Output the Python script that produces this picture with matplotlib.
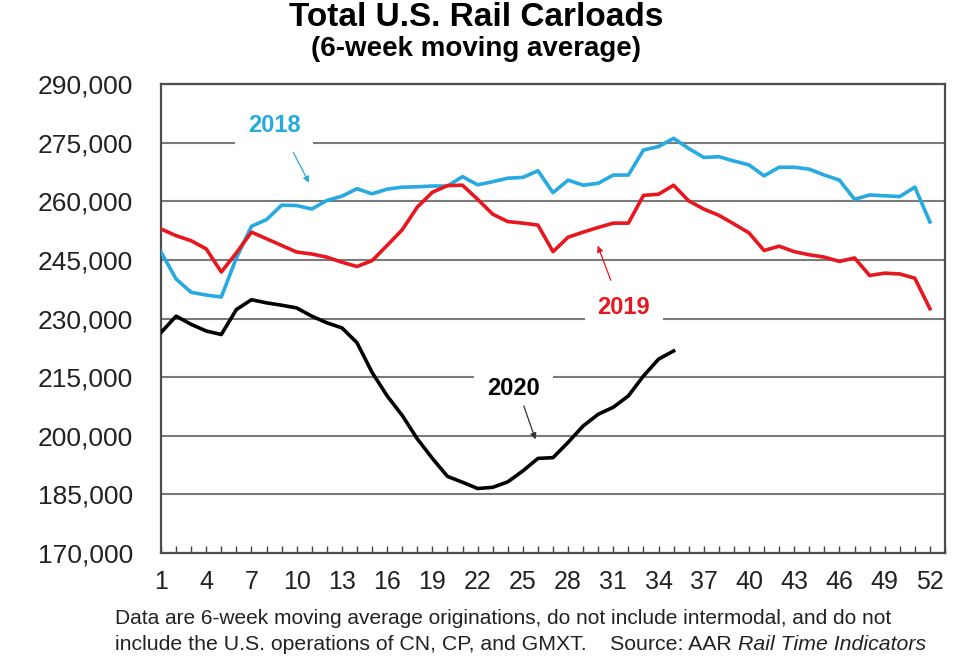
import numpy as np
import matplotlib
matplotlib.use("Agg")
import matplotlib.pyplot as plt
from matplotlib.ticker import FuncFormatter, MultipleLocator

plt.rcParams['font.family'] = ['Liberation Sans', 'DejaVu Sans']

# 6-week moving average carloads, in thousands, by week
weeks = np.arange(1, 53)
carloads_2018 = [247.0, 240.1, 236.7, 236.0, 235.5, 245.5, 253.6, 255.3, 259.0, 258.9,
                 258.0, 260.2, 261.3, 263.2, 261.9, 263.1, 263.6, 263.7, 263.9, 263.9,
                 266.3, 264.2, 265.0, 265.9, 266.1, 267.8, 262.2, 265.4, 264.1, 264.6,
                 266.7, 266.7, 273.1, 274.0, 276.1, 273.5, 271.2, 271.4, 270.3, 269.3,
                 266.5, 268.7, 268.7, 268.2, 266.7, 265.4, 260.5, 261.6, 261.4, 261.2,
                 263.6, 254.7]
carloads_2019 = [252.9, 251.2, 249.9, 247.8, 241.9, 246.8, 252.1, 250.4, 248.7, 247.0,
                 246.5, 245.7, 244.4, 243.3, 244.8, 248.7, 252.7, 258.5, 262.3, 264.0,
                 264.1, 260.5, 256.7, 254.8, 254.4, 253.9, 247.1, 250.8, 252.1, 253.3,
                 254.4, 254.4, 261.5, 261.8, 264.1, 260.1, 258.0, 256.4, 254.2, 251.9,
                 247.4, 248.5, 247.1, 246.3, 245.7, 244.6, 245.5, 241.0, 241.6, 241.4,
                 240.3, 232.5]
carloads_2020 = [226.4, 230.6, 228.5, 226.8, 225.9, 232.3, 234.8, 234.0, 233.4, 232.7,
                 230.6, 228.9, 227.6, 223.8, 216.2, 210.2, 205.2, 199.2, 194.2, 189.6,
                 188.1, 186.5, 186.8, 188.2, 191.0, 194.2, 194.4, 198.3, 202.5, 205.5,
                 207.3, 210.2, 215.3, 219.6, 221.7]
xtick_weeks = np.arange(1, 53, 3)
ytick_values = np.arange(170000, 290001, 15000)

BLUE = '#27a9e1'
RED = '#e8161e'
GRID = '#7a7a7a'

fig = plt.figure(figsize=(9.58, 6.67), dpi=100)
ax = fig.add_axes([161 / 958, 1 - 553 / 667, 784 / 958, 469 / 667])

ax.plot(weeks, np.array(carloads_2018) * 1000, color=BLUE, lw=2.6, zorder=3)
ax.plot(weeks, np.array(carloads_2019) * 1000, color=RED, lw=2.6, zorder=3)
ax.plot(weeks[:len(carloads_2020)], np.array(carloads_2020) * 1000, color='black', lw=2.6, zorder=3)

ax.set_xlim(1, 53)
ax.set_ylim(170000, 290000)
ax.set_yticks(ytick_values)
ax.yaxis.set_major_formatter(FuncFormatter(lambda v, p: f'{int(v):,}'))
ax.set_xticks(xtick_weeks)
ax.xaxis.set_minor_locator(MultipleLocator(1))
ax.tick_params(axis='y', length=0, pad=20, labelsize=19, colors='#222222')
ax.tick_params(axis='x', which='both', direction='in', length=5, width=1, color='#444444',
               pad=12, labelsize=18, labelcolor='#222222')
ax.grid(axis='y', color=GRID, lw=1.5)
ax.set_axisbelow(True)
for s in ax.spines.values():
    s.set_color('#4d4d4d')
    s.set_linewidth(1.6)

# series labels with white boxes hiding the gridlines, plus thin arrows
box = dict(boxstyle='square,pad=0.55', facecolor='white', edgecolor='none')
ax.text(8.5, 279500, '2018', color=BLUE, fontsize=17, fontweight='bold',
        ha='center', va='center', bbox=box, zorder=4)
ax.annotate('', xy=(10.9, 264100), xytext=(9.7, 273100),
            arrowprops=dict(arrowstyle='-|>', color=BLUE, lw=0.9, mutation_scale=9), zorder=4)
ax.text(31.7, 232700, '2019', color=RED, fontsize=17, fontweight='bold',
        ha='center', va='center', bbox=box, zorder=4)
ax.annotate('', xy=(29.9, 249300), xytext=(30.9, 239100),
            arrowprops=dict(arrowstyle='-|>', color=RED, lw=0.9, mutation_scale=9), zorder=4)
ax.text(24.4, 212200, '2020', color='black', fontsize=17, fontweight='bold',
        ha='center', va='center', bbox=box, zorder=4)
ax.annotate('', xy=(25.9, 198400), xytext=(25.0, 208300),
            arrowprops=dict(arrowstyle='-|>', color='#333333', lw=0.9, mutation_scale=9), zorder=4)

fig.text(0.497, 1 - 17 / 667, 'Total U.S. Rail Carloads', ha='center', va='center',
         fontsize=24, fontweight='bold')
fig.text(0.497, 1 - 49 / 667, '(6-week moving average)', ha='center', va='center',
         fontsize=20, fontweight='bold')

fig.text(115 / 958, 1 - 619 / 667,
         'Data are 6-week moving average originations, do not include intermodal, and do not',
         ha='left', va='center', fontsize=15, color='#222222')
t2 = fig.text(115 / 958, 1 - 645 / 667,
              'include the U.S. operations of CN, CP, and GMXT.    Source: AAR ',
              ha='left', va='center', fontsize=15.3, color='#222222')
ax.annotate('Rail Time Indicators', xy=(1, 0.5), xycoords=t2, ha='left', va='center',
            fontsize=15.3, fontstyle='italic', color='#222222', annotation_clip=False)

fig.savefig('out.png', dpi=100)
